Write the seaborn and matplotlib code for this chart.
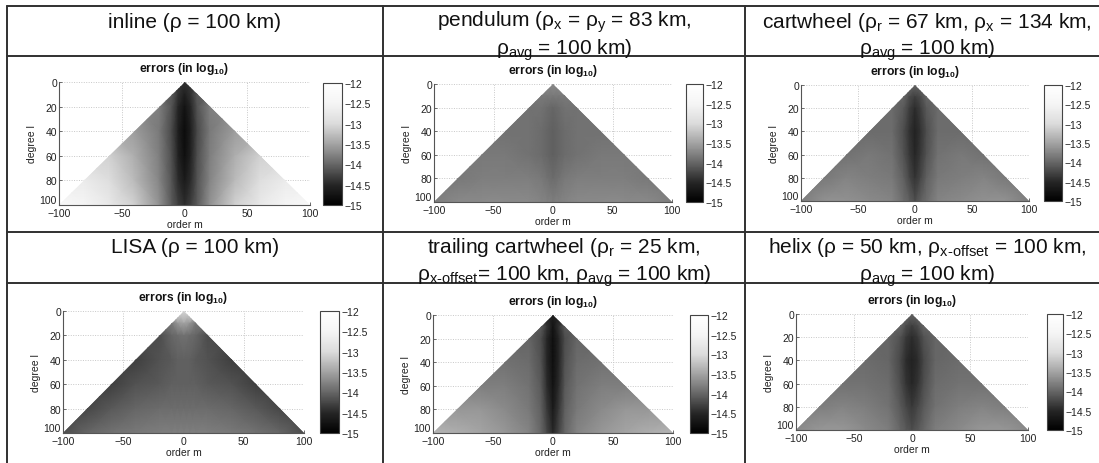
import numpy as np
import matplotlib
matplotlib.use("Agg")
import matplotlib.pyplot as plt
import seaborn as sns
from matplotlib.colors import LinearSegmentedColormap
from matplotlib.patches import Polygon
from matplotlib.lines import Line2D

# ---------------- data (log10 errors) ----------------
# nodes of |order m| and degree l at which the field was read
ORDER_ABS = [0, 5, 10, 20, 40, 60, 80, 100]
DEGREE = [0, 10, 20, 40, 60, 80, 100]

inline_vals = [
    [-14.4],
    [-14.6, -14.4, -14.1],
    [-14.75, -14.5, -14.15, -13.8],
    [-14.85, -14.6, -14.25, -13.85, -13.55],
    [-14.8, -14.55, -14.2, -13.8, -13.4, -13.1],
    [-14.65, -14.45, -14.15, -13.75, -13.3, -12.95, -12.7],
    [-14.45, -14.3, -14.1, -13.65, -13.1, -12.75, -12.5, -12.3],
]
pendulum_vals = [
    [-13.7],
    [-13.85, -13.85, -13.85],
    [-14.0, -13.95, -13.9, -13.9],
    [-14.05, -14.0, -13.95, -13.9, -13.9],
    [-14.05, -14.0, -13.95, -13.9, -13.85, -13.85],
    [-13.95, -13.9, -13.85, -13.8, -13.8, -13.8, -13.85],
    [-13.8, -13.78, -13.75, -13.72, -13.7, -13.7, -13.72, -13.8],
]
cartwheel_vals = [
    [-14.0],
    [-14.3, -14.2, -14.0],
    [-14.45, -14.3, -14.1, -13.95],
    [-14.55, -14.4, -14.2, -13.95, -13.95],
    [-14.5, -14.35, -14.15, -13.9, -13.85, -13.9],
    [-14.4, -14.25, -14.05, -13.85, -13.8, -13.75, -13.85],
    [-14.2, -14.05, -13.95, -13.75, -13.7, -13.65, -13.65, -13.8],
]
lisa_vals = [
    [-13.0],
    [-13.5, -13.6, -13.85],
    [-13.9, -13.95, -14.0, -14.2],
    [-14.05, -14.05, -14.1, -14.15, -14.3],
    [-14.05, -14.05, -14.05, -14.1, -14.15, -14.3],
    [-13.95, -13.95, -13.95, -13.95, -14.0, -14.1, -14.25],
    [-13.8, -13.8, -13.8, -13.8, -13.85, -13.9, -14.0, -14.2],
]
trailing_vals = [
    [-14.6],
    [-14.75, -14.4, -14.1],
    [-14.8, -14.5, -14.2, -14.0],
    [-14.8, -14.5, -14.15, -13.95, -13.9],
    [-14.75, -14.45, -14.1, -13.9, -13.8, -13.8],
    [-14.65, -14.35, -14.05, -13.85, -13.7, -13.6, -13.6],
    [-14.5, -14.25, -14.0, -13.75, -13.6, -13.5, -13.4, -13.35],
]
helix_vals = [
    [-14.0],
    [-14.3, -14.2, -14.0],
    [-14.45, -14.35, -14.15, -14.0],
    [-14.55, -14.45, -14.25, -14.0, -13.95],
    [-14.5, -14.4, -14.2, -13.95, -13.9, -13.9],
    [-14.35, -14.25, -14.1, -13.9, -13.8, -13.75, -13.8],
    [-14.2, -14.1, -14.0, -13.8, -13.7, -13.6, -13.6, -13.7],
]

headers = [
    ["inline (ρ = 100 km)"],
    [r"pendulum ($\mathregular{ρ_x}$ = $\mathregular{ρ_y}$ = 83 km,", r"$\mathregular{ρ_{avg}}$ = 100 km)"],
    [r"cartwheel ($\mathregular{ρ_r}$ = 67 km, $\mathregular{ρ_x}$ = 134 km,", r"$\mathregular{ρ_{avg}}$ = 100 km)"],
    ["LISA (ρ = 100 km)"],
    [r"trailing cartwheel ($\mathregular{ρ_r}$ = 25 km,", r"$\mathregular{ρ_{x\text{-}offset}}$= 100 km, $\mathregular{ρ_{avg}}$ = 100 km)"],
    [r"helix (ρ = 50 km, $\mathregular{ρ_{x\text{-}offset}}$ = 100 km,", r"$\mathregular{ρ_{avg}}$ = 100 km)"],
]
panel_values = [inline_vals, pendulum_vals, cartwheel_vals, lisa_vals, trailing_vals, helix_vals]

cbar_ticks = [-12, -12.5, -13, -13.5, -14, -14.5, -15]
x_ticks = [-100, -50, 0, 50, 100]
y_ticks = [0, 20, 40, 60, 80, 100]

# ---------------- style ----------------
sns.set_theme(style="white")
plt.rcParams["font.family"] = ["Liberation Sans", "DejaVu Sans"]
plt.rcParams["mathtext.fontset"] = "custom"
plt.rcParams["mathtext.rm"] = "Liberation Sans"
plt.rcParams["mathtext.it"] = "Liberation Sans:italic"
plt.rcParams["mathtext.bf"] = "Liberation Sans:bold"

W, H = 1099, 464
fig = plt.figure(figsize=(W / 100, H / 100), dpi=100)
fig.patch.set_facecolor("white")

cmap = LinearSegmentedColormap.from_list(
    "mgray",
    [(0.0, (0, 0, 0)), (1 / 6, (0.15,) * 3), (1 / 3, (0.40,) * 3), (0.5, (0.64,) * 3),
     (2 / 3, (0.86,) * 3), (5 / 6, (0.96,) * 3), (1.0, (1, 1, 1))])


def fr(x0, y0, x1, y1):
    return [x0 / W, 1 - y1 / H, (x1 - x0) / W, (y1 - y0) / H]


ax_px = [(59, 83, 310, 206), (434, 85, 672, 203), (801, 86, 1029, 202),
         (63, 312, 304, 434), (433, 316, 673, 434), (796, 315, 1028, 431)]
cb_px = [(323, 84, 342, 206), (686, 85, 703, 203), (1044, 86, 1062, 202),
         (320, 312, 339, 434), (690, 316, 708, 434), (1047, 315, 1063, 431)]
head_x = [195, 564, 927, 195, 564, 927]
head_y = [22, 22, 22, 248, 248, 248]
line_gap = 28

m_full = [-o for o in ORDER_ABS[::-1]] + ORDER_ABS[1:]
tick_col = "#222222"

for i, vals in enumerate(panel_values):
    # grid from the read values (mirror in m, pad outside of |m|<=l with the edge value)
    Z = []
    for row in vals:
        padded = list(row) + [row[-1]] * (len(ORDER_ABS) - len(row))
        Z.append([padded[ORDER_ABS.index(abs(m))] for m in m_full])
    Z = np.array(Z)
    M, L = np.meshgrid(m_full, DEGREE)

    ax = fig.add_axes(fr(*ax_px[i]))
    mesh = ax.pcolormesh(M, L, Z, shading="gouraud", cmap=cmap, vmin=-15, vmax=-12, zorder=1)
    tri = Polygon([[min(m_full), max(DEGREE)], [0, min(DEGREE)], [max(m_full), max(DEGREE)]],
                  closed=True, transform=ax.transData)
    mesh.set_clip_path(tri)

    ax.set_xlim(min(x_ticks), max(x_ticks))
    ax.set_ylim(max(y_ticks), min(y_ticks))
    ax.set_xticks(x_ticks)
    ax.set_yticks(y_ticks)
    ax.set_axisbelow(True)
    ax.grid(True, color="#c8c8c8", linestyle=(0, (1, 1.5)), linewidth=0.7)
    sns.despine(ax=ax)
    for s in ["left", "bottom"]:
        ax.spines[s].set_color("#555555")
        ax.spines[s].set_linewidth(0.8)
    ax.tick_params(direction="in", length=2.5, width=0.6, labelsize=7.5, pad=1.5,
                   colors="#555555", labelcolor=tick_col, left=True, bottom=True)
    ax.tick_params(axis="x", pad=2.5)
    ylabs = ax.get_yticklabels()
    ylabs[-1].set_verticalalignment("bottom")
    ax.set_xlabel("order m", fontsize=7.5, labelpad=0.5, color=tick_col)
    ax.set_ylabel("degree l", fontsize=7.5, labelpad=2, color=tick_col)
    ax.set_title(r"errors (in log$_{\mathbf{10}}$)", fontsize=8.7, fontweight="bold",
                 pad=8, color="#111111")

    cax = fig.add_axes(fr(*cb_px[i]))
    cb = fig.colorbar(mesh, cax=cax, ticks=cbar_ticks)
    cb.ax.set_yticklabels([f"{t:g}".replace("-", "\u2212") for t in cbar_ticks])
    cb.outline.set_linewidth(0.8)
    cb.outline.set_edgecolor("#444444")
    cax.tick_params(direction="in", length=2, width=0.5, labelsize=7.5, pad=1.5,
                    left=True, right=True, colors="#555555", labelcolor=tick_col)

    for k, line in enumerate(headers[i]):
        fig.text(head_x[i] / W, 1 - (head_y[i] + k * line_gap) / H, line,
                 ha="center", va="center", fontsize=15, color="#111111")

# table lines
lc = "#303030"
lw = 1.4
for x in [7, 383, 745]:
    fig.add_artist(Line2D([x / W, x / W], [0, 1 - 7 / H], color=lc, lw=lw))
for y in [7, 57, 233, 284]:
    fig.add_artist(Line2D([7 / W, 1], [1 - y / H, 1 - y / H], color=lc, lw=lw))

fig.savefig("out.png", dpi=100, facecolor="white")
